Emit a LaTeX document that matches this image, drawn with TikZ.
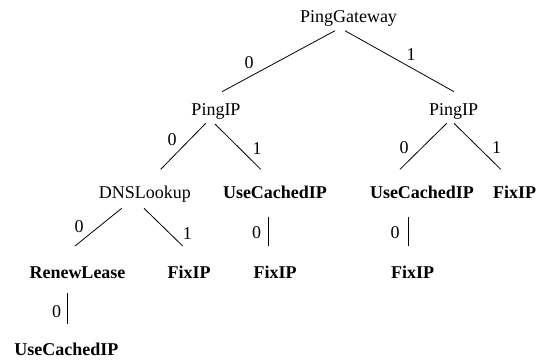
\documentclass[tikz,border=0pt]{standalone}
\usepackage{fontspec}
\setmainfont{Liberation Serif}
\usetikzlibrary{calc}
\tikzset{
  st/.style={anchor=base, inner sep=0pt, font=\fontsize{18}{20}\selectfont},
  act/.style={st, font=\fontsize{18}{20}\selectfont\bfseries},
  lbl/.style={anchor=center, inner sep=0pt, font=\fontsize{18}{20}\selectfont},
  edge/.style={line width=0.8pt, black}
}
\begin{document}
\begin{tikzpicture}[x=1pt,y=-1pt]
\useasboundingbox (0,0) rectangle (544,360);
% nodes
\node[st] (pg) at (348.5,22) {PingGateway};
\node[st] (pipl) at (216,115) {PingIP};
\node[st] (pipr) at (453.7,115) {PingIP};
\node[st] (dns) at (145,198) {DNSLookup};
\node[act] (ucipl) at (275,198) {UseCachedIP};
\node[act] (ucipr) at (422,198) {UseCachedIP};
\node[act] (fixtr) at (514.7,198) {FixIP};
\node[act] (rl) at (77.5,278) {RenewLease};
\node[act] (fix1) at (189.2,278) {FixIP};
\node[act] (fix2) at (275,278) {FixIP};
\node[act] (fix3) at (412.7,278) {FixIP};
\node[act] (ucipb) at (66.3,355) {UseCachedIP};
% edges
\draw[edge] ($(pg.base)+(-13.5,8.7)$) -- ($(pipl.base)+(6,-23.3)$);
\draw[edge] ($(pg.base)+(-3.5,8.7)$) -- ($(pipr.base)+(0.3,-23.3)$);
\draw[edge] ($(pipl.base)+(-10.3,8.3)$) -- ($(dns.base)+(15.7,-28.7)$);
\draw[edge] ($(pipl.base)+(-1,9)$) -- ($(ucipl.base)+(-14.3,-28.7)$);
\draw[edge] ($(pipr.base)+(-7,8.3)$) -- ($(ucipr.base)+(-22,-28.7)$);
\draw[edge] ($(pipr.base)+(0.3,8.3)$) -- ($(fixtr.base)+(-14,-28.7)$);
\draw[edge] ($(dns.base)+(-23.3,10.3)$) -- ($(rl.base)+(-2.5,-32)$);
\draw[edge] ($(dns.base)+(-1,10.3)$) -- ($(fix1.base)+(-6.5,-32)$);
\draw[edge] ($(ucipl.base)+(-6.7,18.7)$) -- ($(fix2.base)+(-6.7,-32)$);
\draw[edge] ($(ucipr.base)+(-13.7,18.7)$) -- ($(fix3.base)+(-4.4,-32)$);
\draw[edge] ($(rl.base)+(-9.8,15.3)$) -- ($(ucipb.base)+(1.4,-31)$);
% edge labels
\node[lbl] (l1) at (249,63) {0};
\node[lbl] (l2) at (411,55) {1};
\node[lbl] (l3) at (172,140) {0};
\node[lbl] (l4) at (257,149) {1};
\node[lbl] (l5) at (404,148) {0};
\node[lbl] (l6) at (496.7,148) {1};
\node[lbl] (l7) at (79,226.7) {0};
\node[lbl] (l8) at (187.3,233.3) {1};
\node[lbl] (l9) at (256.7,232.7) {0};
\node[lbl] (l10) at (395,233) {0};
\node[lbl] (l11) at (56.7,311.7) {0};
\end{tikzpicture}
\end{document}
